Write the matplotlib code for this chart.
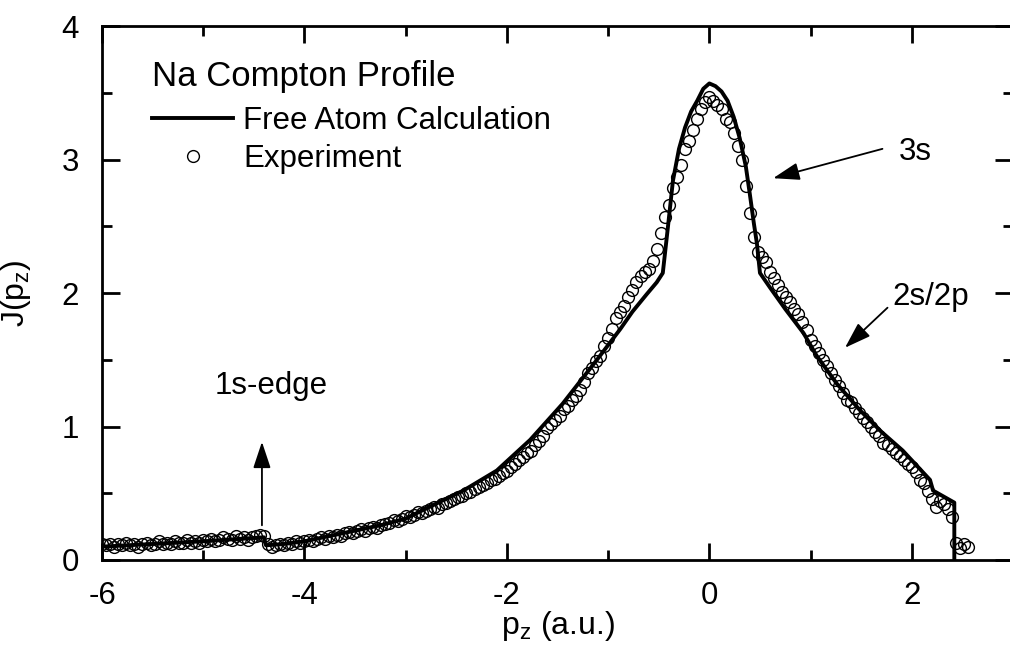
import numpy as np
import matplotlib
matplotlib.use("Agg")
import matplotlib.pyplot as plt
from matplotlib.ticker import MultipleLocator

plt.rcParams['font.family'] = ['Liberation Sans', 'DejaVu Sans']
plt.rcParams['axes.unicode_minus'] = False
plt.rcParams['mathtext.fontset'] = 'custom'
plt.rcParams['mathtext.rm'] = 'Liberation Sans'
plt.rcParams['mathtext.it'] = 'Liberation Sans'

# ---- Free atom calculation (theory) ----
theory_x = [-6.0, -5.5, -5.0, -4.6, -4.40, -4.38, -4.2, -4.0, -3.75, -3.5, -3.25,
            -3.0, -2.76, -2.43, -2.10, -1.77, -1.45, -1.11, -0.88, -0.76, -0.62,
            -0.52, -0.46, -0.41, -0.36, -0.30, -0.24, -0.18, -0.12, -0.06, 0.0,
            0.06, 0.12, 0.18, 0.24, 0.30, 0.36, 0.40, 0.44, 0.47, 0.50, 0.60,
            0.75, 0.93, 1.06, 1.26, 1.49, 1.70, 1.91, 2.18, 2.21, 2.42, 2.42]
theory_y = [0.10, 0.12, 0.14, 0.16, 0.17, 0.11, 0.12, 0.14, 0.18, 0.22, 0.26,
            0.31, 0.40, 0.52, 0.67, 0.90, 1.17, 1.50, 1.73, 1.86, 1.99,
            2.08, 2.15, 2.49, 2.84, 3.08, 3.24, 3.36, 3.44, 3.53, 3.57,
            3.55, 3.51, 3.44, 3.32, 3.16, 2.95, 2.74, 2.52, 2.37, 2.15, 2.04,
            1.88, 1.70, 1.53, 1.32, 1.12, 0.96, 0.82, 0.60, 0.52, 0.43, 0.0]

# ---- Experiment (grid from -6.00 in steps of 0.04) ----
exp_x_start = -6.00
exp_x_step = 0.04
exp_y = [
    0.12, 0.11, 0.12, 0.10, 0.12, 0.11, 0.13, 0.11, 0.12, 0.10,   # -6.00 .. -5.64
    0.12, 0.13, 0.11, 0.12, 0.14, 0.12, 0.13, 0.12, 0.14, 0.13,   # -5.60 .. -5.24
    0.13, 0.15, 0.13, 0.14, 0.13, 0.15, 0.14, 0.16, 0.14, 0.15,   # -5.20 .. -4.84
    0.17, 0.16, 0.15, 0.18, 0.16, 0.17, 0.15, 0.17, 0.18, 0.19,   # -4.80 .. -4.44
    0.18, 0.12, 0.10, 0.11, 0.12, 0.11, 0.13, 0.12, 0.14, 0.13,   # -4.40 .. -4.04
    0.14, 0.15, 0.14, 0.16, 0.17, 0.16, 0.18, 0.17, 0.19, 0.18,   # -4.00 .. -3.64
    0.20, 0.21, 0.20, 0.22, 0.23, 0.22, 0.24, 0.25, 0.24, 0.26,   # -3.60 .. -3.24
    0.27, 0.28, 0.30, 0.29, 0.31, 0.33, 0.32, 0.34, 0.36, 0.35,   # -3.20 .. -2.84
    0.37, 0.38, 0.40, 0.39, 0.42, 0.43, 0.44, 0.46, 0.47, 0.48,   # -2.80 .. -2.44
    0.50, 0.51, 0.53, 0.55, 0.56, 0.58, 0.60, 0.61, 0.63, 0.65,   # -2.40 .. -2.04
    0.67, 0.70, 0.72, 0.75, 0.77, 0.80, 0.82, 0.86, 0.89, 0.93,   # -2.00 .. -1.64
    0.99, 1.02, 1.05, 1.08, 1.13, 1.15, 1.20, 1.23, 1.27, 1.33,   # -1.60 .. -1.24
    1.40, 1.44, 1.49, 1.53, 1.60, 1.66, 1.73, 1.81, 1.86, 1.90,   # -1.20 .. -0.84
    1.97, 2.02, 2.08, 2.13, 2.16, 2.18, 2.24, 2.33, 2.45, 2.57,   # -0.80 .. -0.44
    2.66, 2.79, 2.87, 2.96, 3.08, 3.14, 3.22, 3.30, 3.38, 3.43,   # -0.40 .. -0.04
    3.47, 3.44, 3.41, 3.38, 3.30, 3.28, 3.20, 3.10, 3.00, 2.80,   #  0.00 ..  0.36
    2.60, 2.42, 2.31, 2.27, 2.23, 2.16, 2.11, 2.06, 2.01, 1.97,   #  0.40 ..  0.76
    1.93, 1.88, 1.84, 1.78, 1.72, 1.65, 1.60, 1.55, 1.50, 1.45,   #  0.80 ..  1.16
    1.40, 1.35, 1.30, 1.25, 1.20, 1.18, 1.14, 1.10, 1.06, 1.03,   #  1.20 ..  1.56
    1.00, 0.96, 0.93, 0.88, 0.86, 0.83, 0.80, 0.78, 0.75, 0.72,   #  1.60 ..  1.96
    0.70, 0.66, 0.60, 0.58, 0.52, 0.46, 0.40, 0.44, 0.42, 0.38,   #  2.00 ..  2.36
    0.32, 0.13, 0.09, 0.12, 0.10,                                 #  2.40 ..  2.56
]
exp_x = np.round(exp_x_start + exp_x_step * np.arange(len(exp_y)), 2)

x_ticks = [-6, -4, -2, 0, 2]
y_ticks = [0, 1, 2, 3, 4]

fig = plt.figure(figsize=(10.10, 6.51), dpi=100)
ax = fig.add_axes([0.101, 0.1398, 1.003 - 0.101, 0.960 - 0.1398])

ax.plot(exp_x, exp_y, linestyle='none', marker='o', markersize=8.5,
        markerfacecolor='none', markeredgecolor='black', markeredgewidth=1.0,
        label='Experiment', zorder=2)
ax.plot(theory_x, theory_y, color='black', linewidth=2.8,
        label='Free Atom Calculation', zorder=3)

ax.set_xlim(-6, 3)
ax.set_ylim(0, 4)
ax.set_xticks(x_ticks)
ax.set_yticks(y_ticks)
ax.xaxis.set_minor_locator(MultipleLocator(1))
ax.yaxis.set_minor_locator(MultipleLocator(0.5))
ax.tick_params(which='both', direction='in', top=True, right=True,
               width=2.0, labelsize=22.5, colors='black')
ax.tick_params(axis='x', which='major', length=12, pad=15)
ax.tick_params(axis='x', which='minor', length=7)
ax.tick_params(axis='y', which='major', length=13, pad=16.5)
ax.tick_params(axis='y', which='minor', length=7)
for s in ax.spines.values():
    s.set_linewidth(2.0)

ax.set_xlabel('p$_\\mathregular{z}$ (a.u.)', fontsize=23)
ax.set_ylabel('J(p$_\\mathregular{z}$)', fontsize=23)
ax.xaxis.set_label_coords(0.5, -0.092)
ax.yaxis.set_label_coords(-0.076, 0.5)

ax.text(0.0549, 0.906, 'Na Compton Profile', transform=ax.transAxes,
        fontsize=25, ha='left', va='center')
handles, labels = ax.get_legend_handles_labels()
leg = ax.legend(handles[::-1], labels[::-1],
                loc='upper left', bbox_to_anchor=(0.0549, 0.850), frameon=False,
                fontsize=22.5, handlelength=2.6,
                handletextpad=0.32, labelspacing=0.26, borderaxespad=0,
                borderpad=0)

arrow_kw = dict(arrowstyle='-|>,head_length=0.9,head_width=0.3',
                color='black', lw=1.3, mutation_scale=18, shrinkA=0, shrinkB=0)
ax.annotate('', xy=(0.63, 2.86), xytext=(1.71, 3.08), arrowprops=arrow_kw)
ax.text(2.03, 3.06, '3s', fontsize=22.5, ha='center', va='center')
ax.annotate('', xy=(1.34, 1.59), xytext=(1.76, 1.89), arrowprops=arrow_kw)
ax.text(2.19, 1.97, '2s/2p', fontsize=22.5, ha='center', va='center')
ax.annotate('', xy=(-4.42, 0.885), xytext=(-4.42, 0.26), arrowprops=arrow_kw)
ax.text(-4.33, 1.30, '1s-edge', fontsize=22.5, ha='center', va='center')

fig.savefig('out.png', dpi=100)
